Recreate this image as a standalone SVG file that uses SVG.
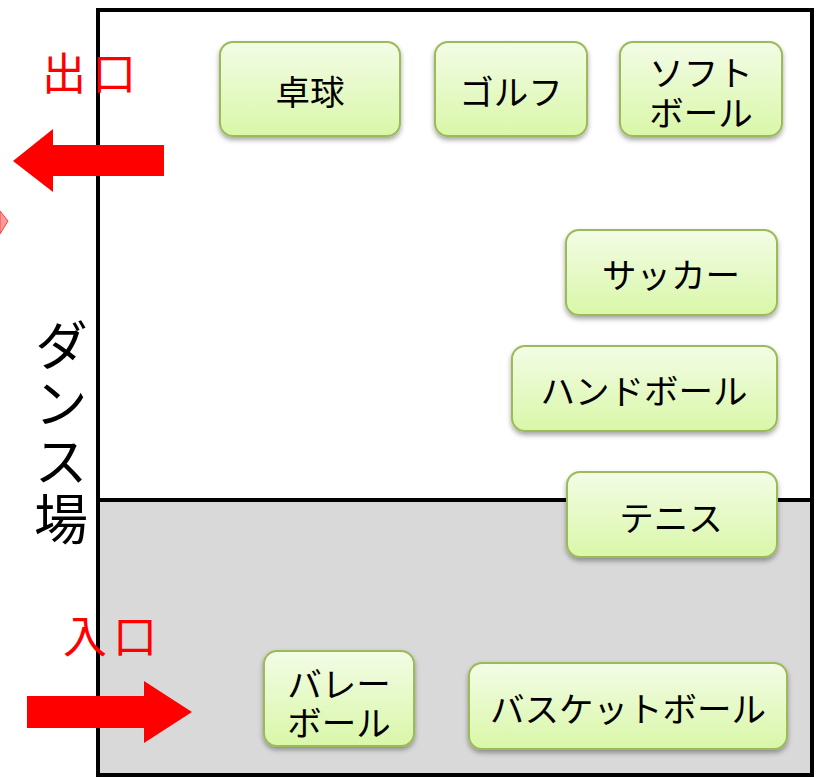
<svg xmlns="http://www.w3.org/2000/svg" width="822" height="777" viewBox="0 0 822 777">
<defs>
<linearGradient id="g" x1="0" y1="0" x2="0" y2="1">
<stop offset="0" stop-color="#f3fce6"/>
<stop offset="1" stop-color="#d9f7a8"/>
</linearGradient>
<filter id="sh" x="-10%" y="-10%" width="120%" height="130%">
<feDropShadow dx="0" dy="3" stdDeviation="2.5" flood-color="#000" flood-opacity="0.35"/>
</filter>
</defs>
<style>
.box{fill:url(#g);stroke:#9bbb59;stroke-width:2;filter:url(#sh)}
.t{font-family:"Noto Sans CJK JP","Noto Sans",sans-serif;font-size:34.5px;fill:#000;text-anchor:middle;dominant-baseline:central}
.red{font-family:"Noto Sans CJK JP","Noto Sans",sans-serif;font-size:44px;fill:#ff0000;text-anchor:middle;dominant-baseline:central;letter-spacing:6px}
.big{font-family:"Noto Sans CJK JP","Noto Sans",sans-serif;font-size:54px;fill:#000;writing-mode:vertical-rl;letter-spacing:4px}
.arrow{fill:#ff0000}
</style>
<rect width="822" height="777" fill="#fff"/>
<g id="floor">
<rect x="98" y="500" width="714" height="275" fill="#d9d9d9"/>
<rect x="98" y="10" width="714" height="765" fill="none" stroke="#000" stroke-width="4"/>
<line x1="98" y1="500" x2="812" y2="500" stroke="#000" stroke-width="4"/>
</g>
<g id="connectors">
<polygon class="arrow" points="164,145 53,145 53,129 13,161 53,192 53,176 164,176"/>
<polygon class="arrow" points="27,696 144,696 144,681 192,712 144,743 144,728 27,728"/>
<polygon points="0,211 8,221 0,234" fill="#ff9a9a" stroke="#ff4040" stroke-width="1"/>
</g>
<g id="takkyu"><rect class="box" x="220" y="42" width="180" height="94" rx="13"/><text class="t" x="310" y="90">卓球</text></g>
<g id="golf"><rect class="box" x="435" y="42" width="152" height="94" rx="13"/><text class="t" x="511" y="90">ゴルフ</text></g>
<g id="softball"><rect class="box" x="620" y="42" width="162" height="94" rx="13"/><text class="t" x="701" y="71">ソフト<tspan x="701" dy="40">ボール</tspan></text></g>
<g id="soccer"><rect class="box" x="566" y="230" width="211" height="85" rx="13"/><text class="t" x="671" y="273">サッカー</text></g>
<g id="handball"><rect class="box" x="512" y="346" width="265" height="85" rx="13"/><text class="t" x="644" y="389">ハンドボール</text></g>
<g id="tennis"><rect class="box" x="567" y="472" width="210" height="85" rx="13"/><text class="t" x="671" y="516">テニス</text></g>
<g id="volleyball"><rect class="box" x="264" y="651" width="150" height="95" rx="13"/><text class="t" x="339" y="682">バレー<tspan x="339" dy="39">ボール</tspan></text></g>
<g id="basketball"><rect class="box" x="469" y="663" width="318" height="86" rx="13"/><text class="t" x="628" y="707">バスケットボール</text></g>
<g id="exit"><text class="red" x="92" y="71">出口</text></g>
<g id="entrance"><text class="red" x="113" y="634">入口</text></g>
<g id="dance"><text class="big" x="61" y="318">ダンス場</text></g>
</svg>
